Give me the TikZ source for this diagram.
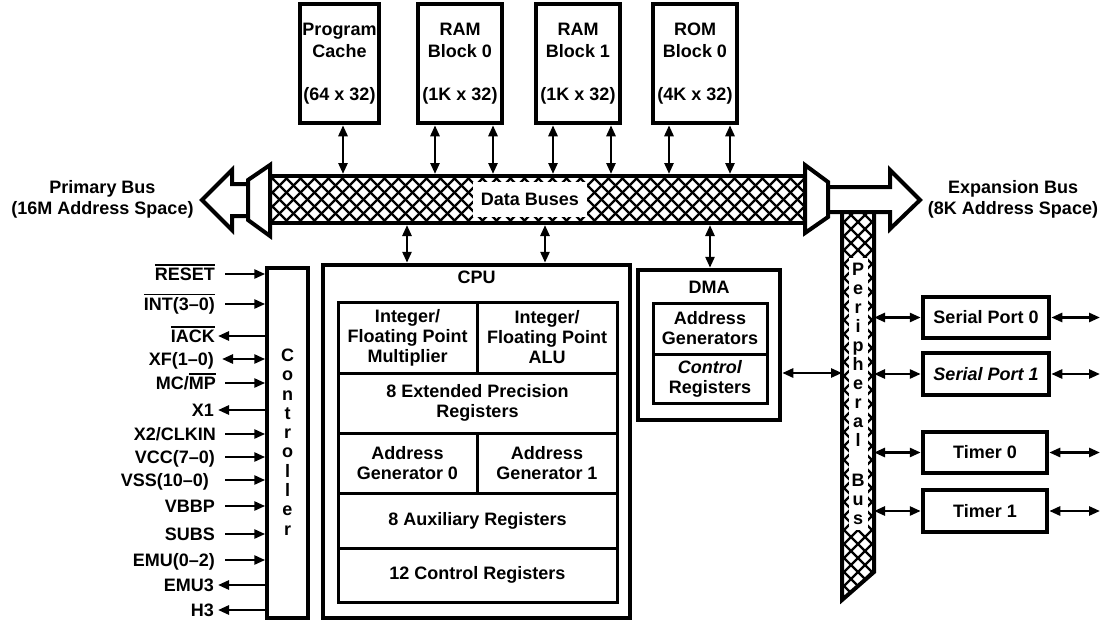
\documentclass[tikz,border=0pt]{standalone}
\usepackage{fontspec}
\setmainfont{Liberation Sans}
\usetikzlibrary{arrows.meta}
\newcommand\myovl[1]{\vbox{\hrule height 1.6pt\kern 2.2pt\hbox{#1}}}
\begin{document}
\begin{tikzpicture}[x=1pt,y=-1pt, font=\bfseries\fontsize{18}{20}\selectfont,
  box/.style={draw, line width=4.5pt, inner sep=0pt, align=center},
  cell/.style={draw, line width=3pt, inner sep=0pt, align=center},
  darr/.style={line width=2.6pt, {Triangle[length=11pt,width=9pt]}-{Triangle[length=11pt,width=9pt]}},
  rarr/.style={line width=2.6pt, -{Triangle[length=11pt,width=9pt]}},
  larr/.style={line width=2.6pt, {Triangle[length=11pt,width=9pt]}-},
  hatch/.style={line width=2.2pt},
  outl/.style={line width=4pt, line join=miter, fill=white},
  plain/.style={inner sep=0pt, align=center}]
\useasboundingbox (0,0) rectangle (1102,621);

% ---------- data bus ----------
\begin{scope}
  \clip (270,176) rectangle (805,223);
  \foreach \k in {200,214,...,830} {
    \draw[hatch] (\k,176) -- ++(47,47);
    \draw[hatch] (\k,223) -- ++(47,-47);
  }
\end{scope}
\node[draw, line width=4pt, minimum width=535pt, minimum height=47pt, inner sep=0pt] (db) at (537.5,199.5) {};
\node[fill=white, minimum width=114pt, minimum height=35pt, inner sep=0pt] (dbl) at (530,199.5) {Data Buses};

% primary bus (left)
\draw[outl] (255,184) -- (232,184) -- (232,170) -- (202,200) -- (232,230) -- (232,216) -- (255,216) -- cycle;
\draw[outl] (248,180) -- (270,165) -- (270,236) -- (248,220) -- cycle;
\node[plain, font=\bfseries\fontsize{18}{21}\selectfont] (prim) at (102.5,199) {Primary Bus\\(16M Address Space)};

% peripheral bus strip
\begin{scope}
  \clip (842,212) -- (874,212) -- (874,572) -- (842,600) -- cycle;
  \foreach \k in {150,164,...,640} {
    \draw[hatch] (842,\k) -- ++(32,32);
    \draw[hatch] (842,\k+32) -- ++(32,-32);
  }
\end{scope}
\draw[line width=4pt, line join=miter] (842,212) -- (842,600) -- (874,572) -- (874,212);
\fill[white] (849,258) rectangle (868,530);
\node[plain, anchor=north, font=\bfseries\fontsize{18}{19}\selectfont] (pbl) at (858,263)
  {P\\e\\r\\i\\p\\h\\e\\r\\a\\l\\[21pt]B\\u\\s};

% expansion bus (right)
\draw[outl] (820,187) -- (890,187) -- (890,170) -- (920,200) -- (890,229) -- (890,212) -- (820,212) -- cycle;
\draw[outl] (805,165) -- (828,182) -- (828,217) -- (805,233) -- cycle;
\node[plain, font=\bfseries\fontsize{18}{21}\selectfont] (exp) at (1013,199) {Expansion Bus\\(8K Address Space)};

% ---------- memories ----------
\begin{scope}[every node/.append style={font=\bfseries\fontsize{18}{22}\selectfont}]
\node[box, minimum width=79pt, minimum height=119pt] (pc) at (339.5,63.5) {Program\\Cache\\[21pt](64 x 32)};
\node[box, minimum width=84pt, minimum height=119pt] (ram0) at (460,63.5) {RAM\\Block 0\\[21pt](1K x 32)};
\node[box, minimum width=84pt, minimum height=119pt] (ram1) at (578,63.5) {RAM\\Block 1\\[21pt](1K x 32)};
\node[box, minimum width=84pt, minimum height=119pt] (rom) at (695,63.5) {ROM\\Block 0\\[21pt](4K x 32)};
\end{scope}
\foreach \n/\x in {pc/343, ram0/435, ram0/493, ram1/553, ram1/611, rom/669, rom/730} {
  \coordinate (m\x) at (\x,0);
  \draw[darr] (m\x |- \n.south) -- (m\x |- db.north);
}

% ---------- controller ----------
\node[draw, line width=3.5pt, minimum width=41pt, minimum height=350pt, inner sep=0pt] (ctrl) at (287.5,443) {};
\foreach \c [count=\k] in {C,o,n,t,r,o,l,l,e,r}
  \node[plain, anchor=base] (cl\k) at (287.5,342.1+19.3*\k) {\c};

\foreach \i/\y/\lx/\ax/\s/\t in {
  1/274/215/225/rarr/{\myovl{RESET}},
  2/304/215/225/rarr/{\myovl{INT(3–0)}},
  3/336/215/218/larr/{\myovl{IACK}},
  4/359/214/222/darr/{XF(1–0)},
  5/383/216/225/rarr/{MC/\myovl{MP}},
  6/410/214/218/larr/{X1},
  7/434/216/225/rarr/{X2/CLKIN},
  8/457/215/225/rarr/{VCC(7–0)},
  9/480/209/225/rarr/{VSS(10–0)},
  10/506/215/225/rarr/{VBBP},
  11/534/215/225/rarr/{SUBS},
  12/560/215/225/rarr/{EMU(0–2)},
  13/585/214/218/larr/{EMU3},
  14/610/214/218/larr/{H3}} {
  \node[plain, anchor=base east] (pin\i) at (\lx,\y+6.4) {\t};
  \coordinate (pa\i) at (\ax,\y);
  \draw[\s] (pa\i) -- (pa\i -| ctrl.west);
}

% ---------- CPU ----------
\node[box, minimum width=307pt, minimum height=353pt] (cpu) at (476.5,441.5) {};
\node[plain] (cpul) at (476.5,277) {CPU};
\node[cell, minimum width=139pt, minimum height=71pt] (mul) at (407.5,337.5) {Integer/\\Floating Point\\Multiplier};
\node[cell, minimum width=140pt, minimum height=71pt] (alu) at (547,337.5) {Integer/\\Floating Point\\ALU};
\node[cell, minimum width=279pt, minimum height=60pt] (ext) at (477.5,403) {8 Extended Precision\\Registers};
\node[cell, minimum width=139pt, minimum height=60pt] (ag0) at (407.5,463) {Address\\Generator 0};
\node[cell, minimum width=140pt, minimum height=60pt] (ag1) at (547,463) {Address\\Generator 1};
\node[cell, minimum width=279pt, minimum height=55pt] (aux) at (477.5,520.5) {8 Auxiliary Registers};
\node[cell, minimum width=279pt, minimum height=54pt] (ctr) at (477.5,575) {12 Control Registers};

\foreach \x in {407,545} {
  \coordinate (b\x) at (\x,0);
  \draw[darr] (b\x |- db.south) -- (b\x |- cpu.north);
}

% ---------- DMA ----------
\node[box, minimum width=142pt, minimum height=150pt] (dma) at (709,345) {};
\node[plain] (dmal) at (709,287) {DMA};
\node[cell, minimum width=114pt, minimum height=51pt] (dag) at (710,328.5) {Address\\Generators};
\node[cell, minimum width=114pt, minimum height=49pt] (dcr) at (710,378.5) {\textit{Control}\\Registers};
\coordinate (b710) at (710,0);
\draw[darr] (b710 |- db.south) -- (b710 |- dma.north);
\coordinate (dq) at (0,373);
\coordinate (pbL) at (842,0);
\draw[darr] (dma.east |- dq) -- (pbL |- dq);

% ---------- peripherals ----------
\node[box, minimum width=126pt, minimum height=41pt] (sp0) at (986,317.5) {Serial Port 0};
\node[box, minimum width=126pt, minimum height=42pt] (sp1) at (986,374) {\textit{Serial Port 1}};
\node[box, minimum width=124pt, minimum height=41pt] (t0) at (985,452.5) {Timer 0};
\node[box, minimum width=124pt, minimum height=42pt] (t1) at (985,511) {Timer 1};
\coordinate (pbR) at (874,0);
\coordinate (outR) at (1100,0);
\foreach \n in {sp0,sp1,t0,t1} {
  \draw[darr] (\n.west -| pbR) -- (\n.west);
  \draw[darr] (\n.east) -- (\n.east -| outR);
}
\end{tikzpicture}
\end{document}
